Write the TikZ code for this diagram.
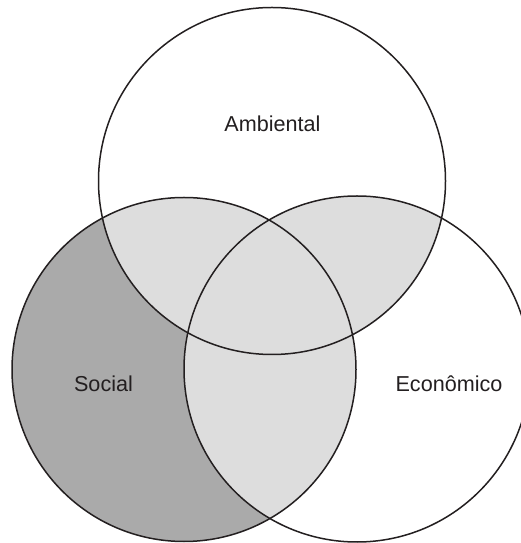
\documentclass[tikz,border=0pt]{standalone}
\usepackage{fontspec}
\setmainfont{Liberation Sans}
\begin{document}
\begin{tikzpicture}[x=1pt,y=1pt,
  ring/.style={circle,draw=edge,line width=1.5pt,inner sep=0pt},
  label/.style={anchor=base,font=\fontsize{21.6}{26}\selectfont,text=edge}]
\definecolor{edge}{HTML}{231F20}
\definecolor{solo}{HTML}{AAAAAA}
\definecolor{shared}{HTML}{DDDDDD}
\useasboundingbox (0,0) rectangle (521,543);
\clip (0,0) rectangle (521,543);
% circle centres and radii
\coordinate (ca) at (272,362);
\coordinate (cs) at (184,173.5);
\coordinate (ce) at (357,174);
% Social on its own: dark grey
\fill[solo] (cs) circle[radius=172];
% pairwise overlaps: light grey
\begin{scope}
  \clip (ca) circle[radius=173.5];
  \fill[shared] (cs) circle[radius=172];
  \fill[shared] (ce) circle[radius=173];
\end{scope}
\begin{scope}
  \clip (cs) circle[radius=172];
  \fill[shared] (ce) circle[radius=173];
\end{scope}
% outlines
\node[ring,minimum size=347pt] (amb) at (ca) {};
\node[ring,minimum size=344pt] (soc) at (cs) {};
\node[ring,minimum size=346pt] (eco) at (ce) {};
% labels
\node[label] (lamb) at (272.5,411) {Ambiental};
\node[label] (lsoc) at (103.5,151) {Social};
\node[label] (leco) at (449,151) {Econômico};
\end{tikzpicture}
\end{document}
